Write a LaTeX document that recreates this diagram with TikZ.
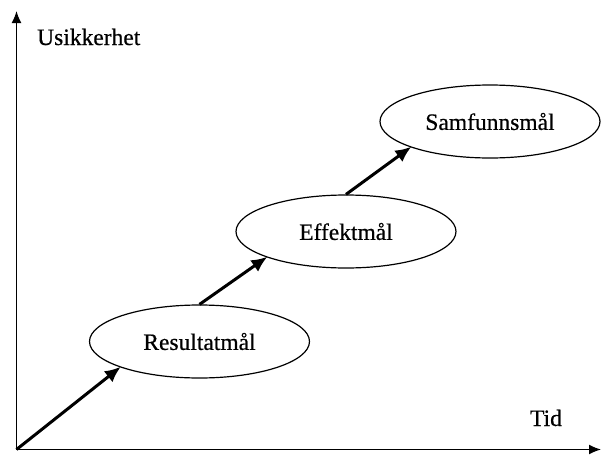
\documentclass[tikz,border=0pt]{standalone}
\usepackage{fontspec}
\setmainfont{Liberation Serif}
% slightly heavier strokes for the labels
\newfontfamily\labelfont{Liberation Serif}[BoldFont={Liberation Serif},BoldFeatures={FakeBold=0.6}]
\usetikzlibrary{arrows.meta,shapes.geometric}

\tikzset{
  axisline/.style={line width=1.5pt,-{Latex[length=12pt,width=10pt]}},
  goal/.style={ellipse,draw,line width=1.2pt,minimum width=220pt,minimum height=73pt,inner sep=0pt,
    font=\labelfont\bfseries\fontsize{23.5}{28}\selectfont},
  axislabel/.style={font=\labelfont\bfseries\fontsize{23.5}{28}\selectfont,inner sep=0pt},
  steparrow/.style={line width=3pt,-{Latex[length=16pt,width=14pt]},shorten >=-1pt}
}

\begin{document}
\begin{tikzpicture}[x=1pt,y=-1pt]
  \useasboundingbox (0,0) rectangle (602,455);

  % axes
  \coordinate (origo) at (16.5,449.5);
  \coordinate (ytop) at (16.5,11);
  \coordinate (xend) at (601,449.5);
  \draw[axisline] (origo) -- (ytop);
  \draw[axisline] (origo) -- (xend);
  \node[axislabel,anchor=base west] (ylab) at (37,45) {Usikkerhet};
  \node[axislabel,anchor=base] (xlab) at (546,426) {Tid};

  % goal levels
  \node[goal] (res) at (199.5,341.5) {Resultatmål};
  \node[goal] (eff) at (346,231.5) {Effektmål};
  \node[goal] (sam) at (490,121.5) {Samfunnsmål};

  % progression
  \draw[steparrow] (origo) -- (res.198);
  \draw[steparrow] (res.north) -- (eff.198);
  \draw[steparrow] (eff.north) -- (sam.198);
\end{tikzpicture}
\end{document}
